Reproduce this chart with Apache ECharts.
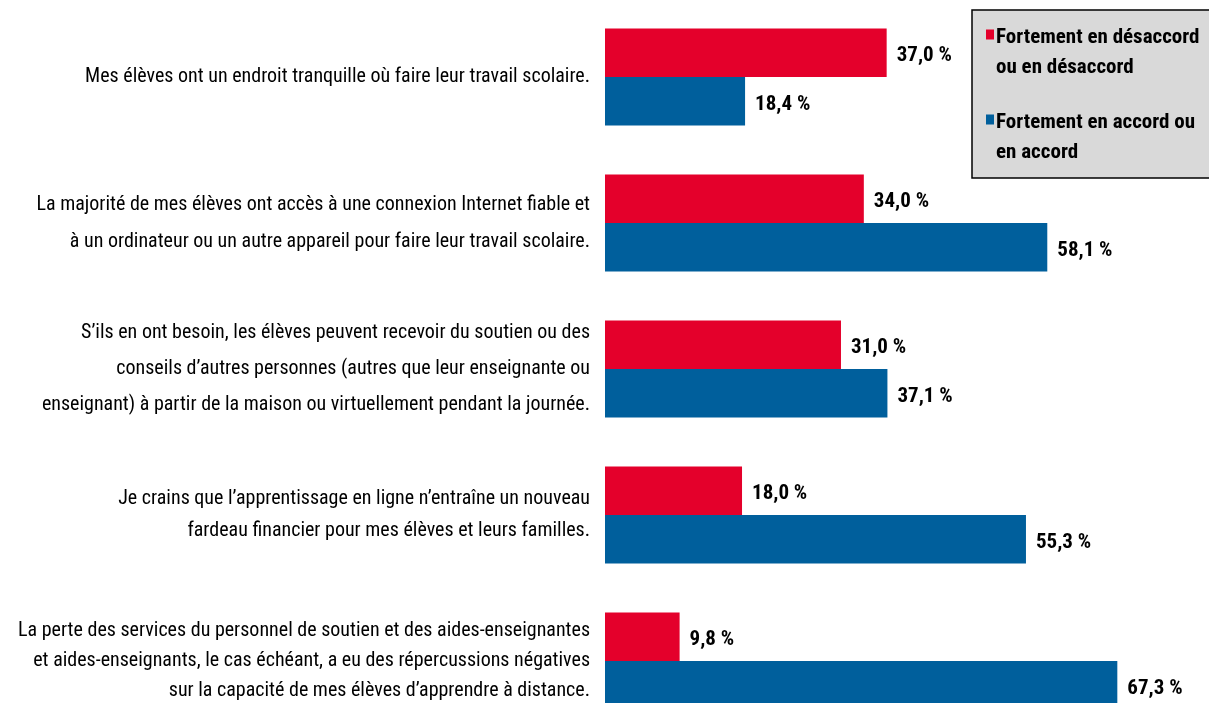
<!DOCTYPE html>
<html>
<head>
    <meta charset="utf-8">
    <title>Bar chart</title>
    <script src="https://cdn.jsdelivr.net/npm/echarts@6/dist/echarts.min.js"></script>
    <style>
        html, body { margin: 0; padding: 0; background: #fff; }
    </style>
</head>
<body>
    <div id="main" style="width: 1209px;height:703px;"></div>
    <script type="text/javascript">
        // categories (top to bottom)
        var categories = [
            'Mes élèves ont un endroit tranquille où faire leur travail scolaire.',
            'La majorité de mes élèves ont accès à une connexion Internet fiable et\nà un ordinateur ou un autre appareil pour faire leur travail scolaire.',
            'S’ils en ont besoin, les élèves peuvent recevoir du soutien ou des\nconseils d’autres personnes (autres que leur enseignante ou\nenseignant) à partir de la maison ou virtuellement pendant la journée.',
            'Je crains que l’apprentissage en ligne n’entraîne un nouveau\nfardeau financier pour mes élèves et leurs familles.',
            'La perte des services du personnel de soutien et des aides-enseignantes\net aides-enseignants, le cas échéant, a eu des répercussions négatives\nsur la capacité de mes élèves d’apprendre à distance.'
        ];
        var seriesNames = ['Fortement en désaccord ou en désaccord', 'Fortement en accord ou en accord'];
        var legendLabels = ['Fortement en désaccord\nou en désaccord', 'Fortement en accord ou\nen accord'];
        var disagree = [37.0, 34.0, 31.0, 18.0, 9.8];
        var agree = [18.4, 58.1, 37.1, 55.3, 67.3];

        var font = "'Liberation Sans Narrow', 'Arial Narrow', 'Roboto Condensed', Arial, sans-serif";

        var myChart = echarts.init(document.getElementById('main'));

        // label line spacing differs a little per block in the original
        var catStyle = function(lh) {
            return { fontFamily: font, fontSize: 20, lineHeight: lh, color: '#000', align: 'right' };
        };

        var valueLabel = {
            show: true,
            position: 'right',
            distance: 10,
            offset: [0, 3],
            color: '#000',
            fontFamily: font,
            fontWeight: 'bold',
            fontSize: 21,
            formatter: function(p) {
                return p.value.toFixed(1).replace('.', ',') + ' %';
            }
        };

        var option = {
            animation: false,
            textStyle: { fontFamily: font },
            legend: {
                orient: 'vertical',
                left: 972,
                top: 10,
                padding: [13, 40, 10, 14],
                itemGap: 25,
                itemWidth: 8,
                itemHeight: 58,
                // small square level with the first text line (tall invisible box)
                icon: 'path://M0,11L8,11L8,21L0,21Z M0,57.98L0.01,57.98L0.01,58L0,58Z',
                backgroundColor: '#D9D9D9',
                borderColor: '#000',
                borderWidth: 1.5,
                data: seriesNames,
                textStyle: {
                    fontFamily: font,
                    fontWeight: 'bold',
                    fontSize: 21,
                    lineHeight: 30,
                    color: '#000',
                    padding: [0, 0, 0, -3]
                },
                formatter: function(name) {
                    return legendLabels[seriesNames.indexOf(name)];
                }
            },
            grid: {
                left: 605,
                top: 4,
                width: 609,
                height: 730,
                outerBoundsMode: 'none',
                containLabel: false
            },
            xAxis: {
                type: 'value',
                min: 0,
                max: 80,
                show: false
            },
            yAxis: {
                type: 'category',
                inverse: true,
                data: categories,
                axisLine: { show: false },
                axisTick: { show: false },
                axisLabel: {
                    margin: 15,
                    color: '#000',
                    fontFamily: font,
                    fontSize: 20,
                    lineHeight: 34,
                    align: 'right',
                    formatter: function(value, idx) {
                        var key = ['a', 'b', 'c', 'd', 'e'][idx];
                        return value.split('\n').map(function(s) {
                            return '{' + key + '|' + s + '}';
                        }).join('\n');
                    },
                    rich: {
                        a: catStyle(30),
                        b: catStyle(37),
                        c: catStyle(36),
                        d: catStyle(32),
                        e: catStyle(30)
                    }
                }
            },
            series: [{
                name: seriesNames[0],
                type: 'bar',
                data: disagree,
                barGap: '0%',
                barCategoryGap: '33.5%',
                itemStyle: { color: '#E4002B' },
                label: valueLabel
            }, {
                name: seriesNames[1],
                type: 'bar',
                data: agree,
                itemStyle: { color: '#005F9C' },
                label: valueLabel
            }]
        };

        myChart.setOption(option);
    </script>
</body>
</html>
